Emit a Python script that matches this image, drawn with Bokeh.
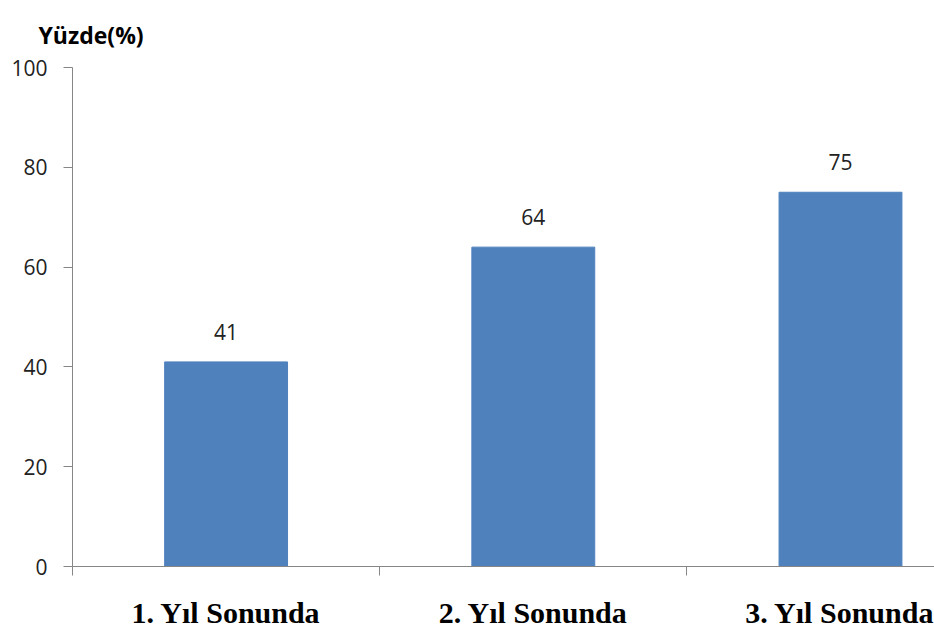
from bokeh.plotting import figure
from bokeh.models import ColumnDataSource, LabelSet, FixedTicker, Range1d
from bokeh.core.properties import value
from bokeh.embed import file_html
from bokeh.resources import INLINE

categories = ["1. Yıl Sonunda", "2. Yıl Sonunda", "3. Yıl Sonunda"]
values = [41, 64, 75]
y_ticks = [0, 20, 40, 60, 80, 100]
y_title = "Yüzde(%)"

xpos = [i + 0.5 for i in range(len(categories))]
src = ColumnDataSource(dict(x=xpos, top=values, label=[str(v) for v in values]))

p = figure(width=934, height=633, output_backend="svg", toolbar_location=None,
           x_range=Range1d(0, 2.806), y_range=Range1d(0, 100),
           min_border_left=72, min_border_right=0, min_border_top=67, min_border_bottom=67,
           title=y_title)
p.outline_line_color = None
p.grid.grid_line_color = None
p.background_fill_color = "white"
p.border_fill_color = "white"

p.title.text_font = "Open Sans"
p.title.text_font_style = "bold"
p.title.text_font_size = "23px"
p.title.offset = -34
p.title.standoff = 33
p.title.text_color = "#000000"

p.vbar(x="x", top="top", width=0.4, source=src, color="#4F81BD", line_color="#4F81BD")

labels = LabelSet(x="x", y="top", text="label", source=src, text_align="center",
                  text_baseline="bottom", y_offset=22, text_font=value("Open Sans"),
                  text_font_size=value("21px"), text_color="#222222")
p.add_layout(labels)

ya = p.yaxis[0]
ya.ticker = FixedTicker(ticks=y_ticks)
ya.axis_line_color = "#868686"
ya.major_tick_line_color = "#868686"
ya.major_tick_out = 9
ya.major_tick_in = 0
ya.minor_tick_line_color = None
ya.major_label_text_font = "Open Sans"
ya.major_label_text_font_size = "21px"
ya.major_label_text_color = "#222222"
ya.major_label_standoff = 16

xa = p.xaxis[0]
xa.ticker = FixedTicker(ticks=xpos, minor_ticks=[0, 1, 2, 3])
xa.major_label_overrides = {x: c for x, c in zip(xpos, categories)}
xa.axis_line_color = "#868686"
xa.major_tick_line_color = None
xa.major_tick_out = 9
xa.major_tick_in = 0
xa.minor_tick_line_color = "#868686"
xa.minor_tick_out = 9
xa.minor_tick_in = 0
xa.major_label_text_font = "Liberation Serif"
xa.major_label_text_font_style = "bold"
xa.major_label_text_font_size = "30px"
xa.major_label_text_color = "#000000"
xa.major_label_standoff = 20

open("out.html", "w").write(file_html(p, INLINE))
